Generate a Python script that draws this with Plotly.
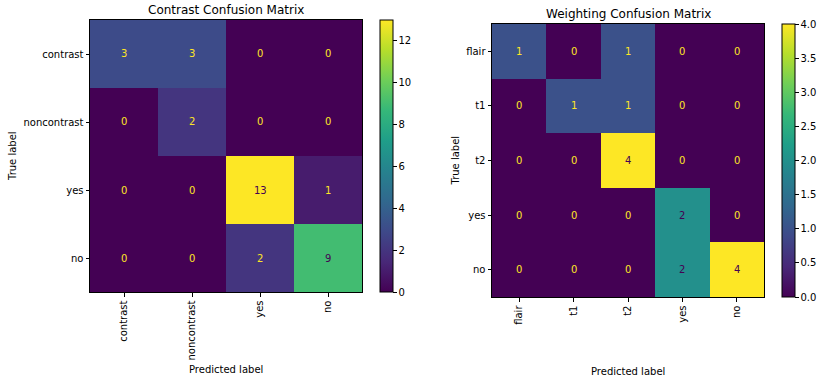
import plotly.graph_objects as go

contrast_labels = ["contrast", "noncontrast", "yes", "no"]
contrast_matrix = [
    [3, 3, 0, 0],
    [0, 2, 0, 0],
    [0, 0, 13, 1],
    [0, 0, 2, 9],
]
weighting_labels = ["flair", "t1", "t2", "yes", "no"]
weighting_matrix = [
    [1, 0, 1, 0, 0],
    [0, 1, 1, 0, 0],
    [0, 0, 4, 0, 0],
    [0, 0, 0, 2, 0],
    [0, 0, 0, 2, 4],
]
contrast_cbar_ticks = [0, 2, 4, 6, 8, 10, 12]
weighting_cbar_ticks = [0.0, 0.5, 1.0, 1.5, 2.0, 2.5, 3.0, 3.5, 4.0]

W, H = 819, 379
FONT = "DejaVu Sans"
YELLOW = "#fde725"
PURPLE = "#440154"

def fx(px):
    return px / W

def fy(py):
    return 1 - py / H

fig = go.Figure()

panels = [
    dict(labels=contrast_labels, z=contrast_matrix, ticks=contrast_cbar_ticks, fmt="d",
         x0=90, x1=362, y0=20, y1=292, cb_x=380, xa="x", ya="y",
         title="Contrast Confusion Matrix", title_y=10, ylab_x=12, xlab_y=369),
    dict(labels=weighting_labels, z=weighting_matrix, ticks=weighting_cbar_ticks, fmt=".1f",
         x0=492, x1=764, y0=24, y1=297, cb_x=782, xa="x2", ya="y2",
         title="Weighting Confusion Matrix", title_y=14, ylab_x=455, xlab_y=371),
]

annotations = []
for i, p in enumerate(panels):
    zmax = max(max(r) for r in p["z"])
    zmin = min(min(r) for r in p["z"])
    fig.add_trace(go.Heatmap(
        z=p["z"], x=p["labels"], y=p["labels"],
        colorscale="Viridis", zmin=zmin, zmax=zmax,
        xaxis=p["xa"], yaxis=p["ya"], hoverinfo="skip",
        colorbar=dict(
            x=fx(p["cb_x"]), xanchor="left", xref="paper",
            y=fy(p["y0"]), yanchor="top", len=(p["y1"] - p["y0"]) / H, lenmode="fraction",
            thickness=13, thicknessmode="pixels",
            outlinewidth=1, outlinecolor="black",
            tickmode="array", tickvals=p["ticks"],
            ticktext=[format(t, p["fmt"]) for t in p["ticks"]],
            ticks="outside", ticklen=3.5, tickcolor="black",
            tickfont=dict(family=FONT, size=10, color="black"),
            xpad=0, ypad=0,
        ),
    ))
    thresh = (zmax + zmin) / 2
    for r, row in enumerate(p["z"]):
        for c, v in enumerate(row):
            annotations.append(dict(
                x=p["labels"][c], y=p["labels"][r], xref=p["xa"], yref=p["ya"],
                text=str(v), showarrow=False,
                font=dict(family=FONT, size=10, color=PURPLE if v >= thresh else YELLOW),
            ))
    cx = (p["x0"] + p["x1"]) / 2
    annotations.append(dict(x=fx(cx), y=fy(p["title_y"]), xref="paper", yref="paper",
                            text=p["title"], showarrow=False, xanchor="center", yanchor="middle",
                            font=dict(family=FONT, size=12, color="black")))
    annotations.append(dict(x=fx(cx), y=fy(p["xlab_y"]), xref="paper", yref="paper",
                            text="Predicted label", showarrow=False, xanchor="center", yanchor="middle",
                            font=dict(family=FONT, size=10, color="black")))
    annotations.append(dict(x=fx(p["ylab_x"]), y=fy((p["y0"] + p["y1"]) / 2), xref="paper", yref="paper",
                            text="True label", showarrow=False, textangle=-90,
                            xanchor="center", yanchor="middle",
                            font=dict(family=FONT, size=10, color="black")))

    axis_common = dict(showline=True, linecolor="black", linewidth=1, mirror=True,
                       ticks="outside", ticklen=3.5, tickcolor="black", showgrid=False,
                       zeroline=False, tickfont=dict(family=FONT, size=10, color="black"),
                       automargin=False)
    xkey = "xaxis" if i == 0 else "xaxis2"
    ykey = "yaxis" if i == 0 else "yaxis2"
    fig.update_layout(**{
        xkey: dict(domain=[fx(p["x0"]), fx(p["x1"])], anchor=p["ya"], tickangle=-90,
                   type="category", **axis_common),
        ykey: dict(domain=[fy(p["y1"]), fy(p["y0"])], anchor=p["xa"], autorange="reversed",
                   type="category", **axis_common),
    })

fig.update_layout(
    width=W, height=H, margin=dict(l=0, r=0, t=0, b=0),
    paper_bgcolor="white", plot_bgcolor="white",
    annotations=annotations, showlegend=False,
    font=dict(family=FONT, size=10, color="black"),
)

# remove the page's default body margin so the figure sits at the window's corner
fig.write_html("out.html", config={"displayModeBar": False},
               post_script="document.body.style.margin='0px';")
